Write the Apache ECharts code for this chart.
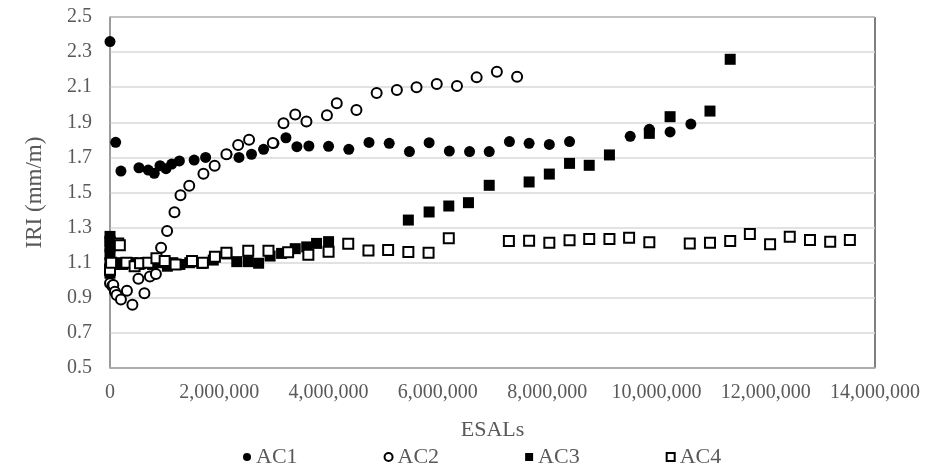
<!DOCTYPE html>
<html>
<head>
<meta charset="utf-8">
<title>IRI vs ESALs</title>
<script src="https://cdn.jsdelivr.net/npm/echarts@6/dist/echarts.min.js"></script>
<style>
    html, body { margin: 0; padding: 0; background: #fff; }
    #chart { width: 925px; height: 470px; }
</style>
</head>
<body>
<div id="chart"></div>
<script>
// [ESALs, IRI (mm/m)]
let ac1 = [
    [0, 2.36], [104000, 1.786], [200000, 1.622], [530000, 1.641], [700000, 1.628],
    [810000, 1.609], [915000, 1.653], [1025000, 1.636], [1130000, 1.662], [1270000, 1.68],
    [1540000, 1.685], [1750000, 1.70], [2140000, 1.718], [2360000, 1.70], [2590000, 1.718],
    [2810000, 1.746], [3000000, 1.78], [3220000, 1.812], [3420000, 1.761], [3640000, 1.765],
    [4000000, 1.763], [4370000, 1.746], [4740000, 1.785], [5110000, 1.78], [5480000, 1.733],
    [5840000, 1.784], [6210000, 1.736], [6580000, 1.733], [6940000, 1.733], [7310000, 1.79],
    [7670000, 1.78], [8040000, 1.774], [8410000, 1.79], [9520000, 1.82], [9870000, 1.86],
    [10250000, 1.845], [10630000, 1.89],
    [0, 1.245], [0, 1.12], [30000, 1.08], [0, 1.05]
];
let ac2 = [
    [0, 1.04], [0, 0.983], [40000, 0.967], [60000, 0.973], [90000, 0.935],
    [120000, 0.916], [200000, 0.89], [310000, 0.94], [410000, 0.86], [520000, 1.008],
    [630000, 0.926], [730000, 1.022], [840000, 1.036], [935000, 1.185], [1045000, 1.28],
    [1180000, 1.388], [1290000, 1.484], [1450000, 1.538], [1710000, 1.607], [1915000, 1.652],
    [2130000, 1.718], [2345000, 1.77], [2545000, 1.8], [2980000, 1.782], [3175000, 1.894],
    [3390000, 1.945], [3595000, 1.905], [3970000, 1.94], [4150000, 2.009], [4510000, 1.97],
    [4880000, 2.067], [5250000, 2.084], [5610000, 2.1], [5980000, 2.118], [6350000, 2.107],
    [6710000, 2.156], [7080000, 2.188], [7450000, 2.16]
];
let ac3 = [
    [0, 1.25], [0, 1.22], [0, 1.19], [0, 1.15], [0, 1.1], [0, 1.07], [0, 1.04],
    [30000, 1.1], [80000, 1.09], [150000, 1.1], [230000, 1.09], [320000, 1.1], [420000, 1.1],
    [530000, 1.09], [650000, 1.1], [780000, 1.09], [900000, 1.1], [1050000, 1.08], [1150000, 1.1],
    [1280000, 1.09], [1460000, 1.1], [1680000, 1.096], [1890000, 1.115], [2140000, 1.15],
    [2320000, 1.106], [2530000, 1.106], [2720000, 1.097], [2930000, 1.138], [3140000, 1.153],
    [3390000, 1.18], [3600000, 1.19], [3780000, 1.21], [4000000, 1.22], [5460000, 1.343],
    [5840000, 1.389], [6200000, 1.423], [6560000, 1.442], [6940000, 1.541], [7670000, 1.56],
    [8040000, 1.605], [8410000, 1.666], [8770000, 1.655], [9140000, 1.714], [9870000, 1.837],
    [10250000, 1.932], [10980000, 1.964], [11350000, 2.259]
];
let ac4 = [
    [0, 1.06], [20000, 1.1], [150000, 1.21], [180000, 1.2], [300000, 1.1], [450000, 1.08],
    [550000, 1.097], [700000, 1.1], [850000, 1.125], [1000000, 1.11], [1200000, 1.09],
    [1500000, 1.11], [1700000, 1.1], [1920000, 1.134], [2130000, 1.157], [2530000, 1.168],
    [2900000, 1.168], [3260000, 1.16], [3630000, 1.146], [4000000, 1.163], [4360000, 1.208],
    [4730000, 1.17], [5090000, 1.172], [5460000, 1.161], [5830000, 1.157], [6200000, 1.239],
    [7300000, 1.224], [7670000, 1.225], [8040000, 1.214], [8410000, 1.228], [8770000, 1.235],
    [9140000, 1.235], [9500000, 1.242], [9870000, 1.216], [10610000, 1.21], [10980000, 1.214],
    [11350000, 1.224], [11710000, 1.264], [12080000, 1.205], [12440000, 1.248], [12810000, 1.229],
    [13180000, 1.22], [13540000, 1.229]
];

let seriesNames = ['AC1', 'AC2', 'AC3', 'AC4'];
let seriesData = [ac1, ac2, ac3, ac4];
let xMin = 0, xMax = 14000000, xStep = 2000000;
let yMin = 0.5, yMax = 2.5, yStep = 0.2;

let font = '"Liberation Serif", "Times New Roman", serif';
let grey = '#595959';

// symbol + fill for each series, same order as seriesNames
let marks = [
    { symbol: 'circle', size: 11, fill: '#000', border: 0 },
    { symbol: 'circle', size: 10, fill: '#fff', border: 2 },
    { symbol: 'rect', size: 11, fill: '#000', border: 0 },
    { symbol: 'rect', size: 10, fill: '#fff', border: 2 }
];

let series = seriesNames.map(function (name, i) {
    return {
        name: name,
        type: 'scatter',
        symbol: marks[i].symbol,
        symbolSize: marks[i].size,
        itemStyle: {
            color: marks[i].fill,
            borderColor: '#000',
            borderWidth: marks[i].border,
            opacity: 1
        },
        data: seriesData[i]
    };
});

let option = {
    backgroundColor: '#fff',
    animation: false,
    textStyle: { fontFamily: font },
    grid: {
        left: 110, right: 50, top: 17, bottom: 102,
        show: true,
        borderColor: '#000',
        borderWidth: 1
    },
    legend: {
        data: seriesNames,
        left: 238,
        top: 441,
        itemWidth: 8,
        itemHeight: 8,
        itemGap: 86,
        textStyle: { fontFamily: font, fontSize: 22, color: grey }
    },
    xAxis: {
        type: 'value',
        min: xMin,
        max: xMax,
        interval: xStep,
        name: 'ESALs',
        nameLocation: 'middle',
        nameGap: 51,
        nameTextStyle: { fontFamily: font, fontSize: 22, color: grey },
        axisLine: { show: true, lineStyle: { color: '#a6a6a6', width: 1.5 } },
        axisTick: { show: false },
        splitLine: { show: false },
        axisLabel: {
            margin: 15,
            fontFamily: font,
            fontSize: 20,
            color: grey,
            formatter: function (v) { return v.toLocaleString('en-US'); }
        }
    },
    yAxis: {
        type: 'value',
        min: yMin,
        max: yMax,
        interval: yStep,
        name: 'IRI (mm/m)',
        nameLocation: 'middle',
        nameGap: 64,
        nameTextStyle: { fontFamily: font, fontSize: 23, color: grey },
        axisLine: { show: true, lineStyle: { color: '#a6a6a6', width: 1.5 } },
        axisTick: { show: false },
        splitLine: { show: true, lineStyle: { color: '#d9d9d9', width: 1.5 } },
        axisLabel: {
            margin: 18,
            fontFamily: font,
            fontSize: 20,
            color: grey,
            formatter: function (v) { return v.toFixed(1); }
        }
    },
    series: series
};

let chart = echarts.init(document.getElementById('chart'));
chart.setOption(option);
</script>
</body>
</html>
